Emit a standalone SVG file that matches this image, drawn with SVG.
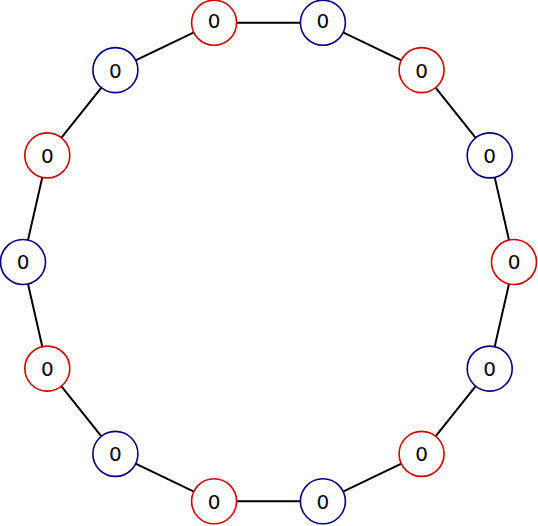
<svg xmlns="http://www.w3.org/2000/svg" width="538" height="526" viewBox="0 0 538 526">
<style>
.e{stroke:#000;stroke-width:2;fill:none}
.r circle{fill:#fff;stroke:#d40000;stroke-width:1.6}
.b circle{fill:#fff;stroke:#000080;stroke-width:1.6}
text{font-family:"DejaVu Sans",sans-serif;font-size:20px;text-anchor:middle;fill:#000}
</style>
<rect width="538" height="526" fill="#fff"/>
<g id="edges">
<polygon class="e" points="214.1,22.7 322.9,22.7 421.6,70.1 489.7,155.4 514.0,262 489.7,368.6 421.6,453.9 322.9,501.3 214.1,501.3 115.4,453.9 47.3,368.6 23,262 47.3,155.4 115.4,70.1"/>
</g>
<g id="n1" class="r"><circle cx="214.1" cy="22.7" r="22.5"/><text x="214.1" y="28">0</text></g>
<g id="n2" class="b"><circle cx="322.9" cy="22.7" r="22.5"/><text x="322.9" y="28">0</text></g>
<g id="n3" class="r"><circle cx="421.6" cy="70.1" r="22.5"/><text x="421.6" y="77.5">0</text></g>
<g id="n4" class="b"><circle cx="489.7" cy="155.4" r="22.5"/><text x="489.7" y="162.8">0</text></g>
<g id="n5" class="r"><circle cx="514.0" cy="262" r="22.5"/><text x="514.0" y="269.4">0</text></g>
<g id="n6" class="b"><circle cx="489.7" cy="368.6" r="22.5"/><text x="489.7" y="376">0</text></g>
<g id="n7" class="r"><circle cx="421.6" cy="453.9" r="22.5"/><text x="421.6" y="461.3">0</text></g>
<g id="n8" class="b"><circle cx="322.9" cy="501.3" r="22.5"/><text x="322.9" y="508.7">0</text></g>
<g id="n9" class="r"><circle cx="214.1" cy="501.3" r="22.5"/><text x="214.1" y="508.7">0</text></g>
<g id="n10" class="b"><circle cx="115.4" cy="453.9" r="22.5"/><text x="115.4" y="461.3">0</text></g>
<g id="n11" class="r"><circle cx="47.3" cy="368.6" r="22.5"/><text x="47.3" y="376">0</text></g>
<g id="n12" class="b"><circle cx="23" cy="262" r="22.5"/><text x="23" y="269.4">0</text></g>
<g id="n13" class="r"><circle cx="47.3" cy="155.4" r="22.5"/><text x="47.3" y="162.8">0</text></g>
<g id="n14" class="b"><circle cx="115.4" cy="70.1" r="22.5"/><text x="115.4" y="77.5">0</text></g>
</svg>
